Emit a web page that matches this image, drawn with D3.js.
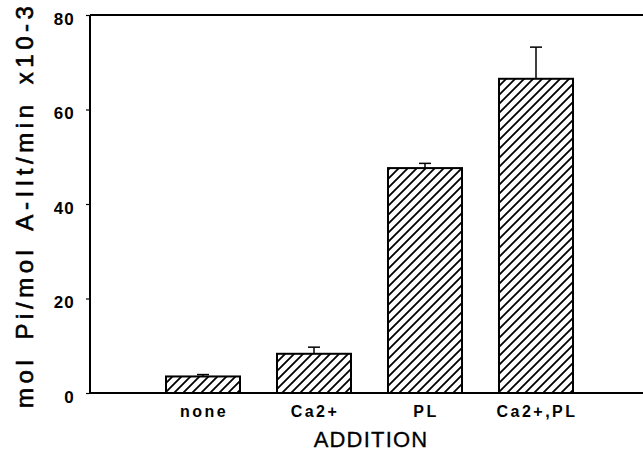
<!DOCTYPE html>
<html>
<head>
<meta charset="utf-8">
<script src="https://cdn.jsdelivr.net/npm/d3@7/dist/d3.min.js"></script>
<style>
  html, body { margin: 0; padding: 0; background: #fff; }
  svg { display: block; }
</style>
</head>
<body>
<svg id="chart" width="643" height="462"></svg>
<script>
// ---- data ----
const categories = ["none", "Ca2+", "PL", "Ca2+,PL"];
const values = [3.5, 8.3, 47.6, 66.5];
const errors = [0.4, 1.4, 1.0, 6.7];
const yTicks = [0, 20, 40, 60, 80];
const yLabel = "mol Pi/mol A-IIt/min x10-3";
const xLabel = "ADDITION";

const W = 643, H = 462;
const plotLeft = 90, plotTop = 15, plotBottom = 393, plotRight = 643;

const svg = d3.select("#chart");
svg.append("rect").attr("width", W).attr("height", H).attr("fill", "#fff");

const defs = svg.append("defs");
const pat = defs.append("pattern")
  .attr("id", "hatch")
  .attr("patternUnits", "userSpaceOnUse")
  .attr("width", 9).attr("height", 9);
pat.append("rect").attr("width", 9).attr("height", 9).attr("fill", "#fff");
pat.append("path")
  .attr("d", "M0,9 L9,0 M-3,3 L3,-3 M6,12 L12,6")
  .attr("stroke", "#000").attr("stroke-width", 1.8);

const x = d3.scaleBand()
  .domain(categories)
  .range([147.5, 591.5])
  .paddingInner(1 / 3)
  .paddingOuter(1 / 6);

const y = d3.scaleLinear().domain([0, 80]).range([plotBottom, plotTop]);

const font = "'Liberation Sans', Arial, sans-serif";

// y axis ticks and labels
const yAxis = d3.axisLeft(y).tickValues(yTicks).tickSize(4).tickPadding(11).tickFormat(d3.format("d"));
const gy = svg.append("g").attr("transform", `translate(${plotLeft},0)`).call(yAxis);
gy.select(".domain").remove();
gy.selectAll(".tick line").attr("stroke", "#000").attr("stroke-width", 1.2);
gy.selectAll(".tick text")
  .attr("fill", "#000")
  .attr("dy", "0.55em")
  .style("font-family", font)
  .style("font-size", "17px")
  .style("font-weight", "bold")
  .style("letter-spacing", "1.2px");

// bars
const bars = svg.append("g");
categories.forEach((c, i) => {
  bars.append("rect")
    .attr("x", x(c))
    .attr("y", y(values[i]))
    .attr("width", x.bandwidth())
    .attr("height", y(0) - y(values[i]))
    .attr("fill", "url(#hatch)")
    .attr("stroke", "#000")
    .attr("stroke-width", 2);
});

// error bars (upper)
const eb = svg.append("g").attr("stroke", "#000").attr("stroke-width", 1.5);
categories.forEach((c, i) => {
  const cx = x(c) + x.bandwidth() / 2;
  const yTop = y(values[i] + errors[i]);
  eb.append("line").attr("x1", cx).attr("x2", cx).attr("y1", y(values[i])).attr("y2", yTop);
  eb.append("line").attr("x1", cx - 6).attr("x2", cx + 6).attr("y1", yTop).attr("y2", yTop);
});

// frame lines: left, top, bottom
const frame = svg.append("g").attr("stroke", "#000").attr("stroke-width", 2).attr("fill", "none");
frame.append("line").attr("x1", plotLeft).attr("x2", plotLeft).attr("y1", y(80)).attr("y2", y(0));
frame.append("line").attr("x1", plotLeft).attr("x2", plotRight).attr("y1", y(80)).attr("y2", y(80));
frame.append("line").attr("x1", plotLeft).attr("x2", plotRight).attr("y1", y(0)).attr("y2", y(0));

// category labels
svg.append("g").selectAll("text")
  .data(categories)
  .join("text")
  .attr("x", d => x(d) + x.bandwidth() / 2 + 1)
  .attr("y", 417)
  .attr("text-anchor", "middle")
  .style("font-family", font)
  .style("font-size", "16px")
  .style("font-weight", "bold")
  .style("letter-spacing", "2.5px")
  .text(d => d);

// x title
svg.append("text")
  .attr("x", 371)
  .attr("y", 447)
  .attr("text-anchor", "middle")
  .style("font-family", font)
  .style("font-size", "22px")
  .style("letter-spacing", "1.2px")
  .attr("stroke", "#000")
  .attr("stroke-width", 0.3)
  .text(xLabel);

// y title
svg.append("text")
  .attr("transform", "translate(33,207) rotate(-90)")
  .attr("text-anchor", "middle")
  .attr("textLength", 402)
  .attr("lengthAdjust", "spacing")
  .style("font-family", font)
  .style("font-size", "24px")
  .style("word-spacing", "5px")
  .attr("stroke", "#000")
  .attr("stroke-width", 0.6)
  .text(yLabel);
</script>
</body>
</html>
